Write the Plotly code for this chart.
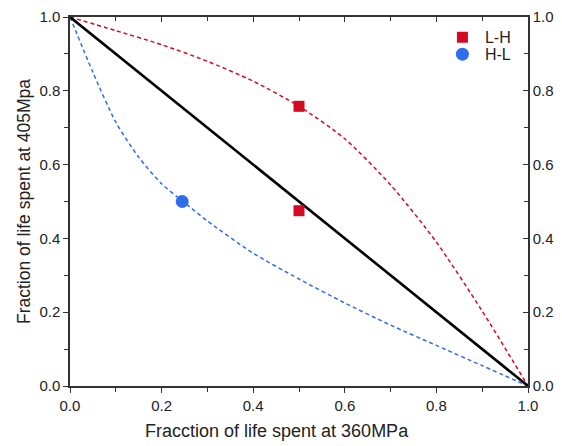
import plotly.graph_objects as go

# Reference diagonal (linear damage rule)
diag_x = [0.0, 1.0]
diag_y = [1.0, 0.0]

# Red dashed curve (L-H model)
red_curve_x = [0.0, 0.1, 0.2, 0.3, 0.4, 0.5, 0.6, 0.7, 0.8, 0.9, 1.0]
red_curve_y = [1.0, 0.963, 0.925, 0.880, 0.826, 0.758, 0.670, 0.545, 0.390, 0.203, 0.0]

# Blue dashed curve (H-L model)
blue_curve_x = [0.0, 0.05, 0.1, 0.15, 0.2, 0.25, 0.3, 0.4, 0.5, 0.6, 0.7, 0.8, 0.9, 1.0]
blue_curve_y = [1.0, 0.85, 0.715, 0.62, 0.548, 0.497, 0.447, 0.36, 0.29, 0.225, 0.165, 0.11, 0.055, 0.0]

# Experimental points
lh_x = [0.5, 0.5]
lh_y = [0.758, 0.475]
hl_x = [0.245]
hl_y = [0.5]

tick_vals = [0.0, 0.2, 0.4, 0.6, 0.8, 1.0]
tick_text = ["0.0", "0.2", "0.4", "0.6", "0.8", "1.0"]

RED = "#D40A22"
BLUE = "#2F6EEA"
AX = "#333333"
TXT = "#222222"
FONT = "Liberation Sans, Arial, sans-serif"

fig = go.Figure()

fig.add_trace(go.Scatter(x=red_curve_x, y=red_curve_y, mode="lines",
                         line=dict(color=RED, width=1.5, dash="4px,3px", shape="spline", smoothing=0.7),
                         showlegend=False, hoverinfo="skip"))
fig.add_trace(go.Scatter(x=blue_curve_x, y=blue_curve_y, mode="lines",
                         line=dict(color=BLUE, width=1.5, dash="4px,3px", shape="spline", smoothing=0.7),
                         showlegend=False, hoverinfo="skip"))
fig.add_trace(go.Scatter(x=diag_x, y=diag_y, mode="lines",
                         line=dict(color="black", width=2.6),
                         showlegend=False, hoverinfo="skip"))
fig.add_trace(go.Scatter(x=lh_x, y=lh_y, mode="markers", name="L-H", legend="legend",
                         marker=dict(symbol="square", size=11, color=RED)))
fig.add_trace(go.Scatter(x=hl_x, y=hl_y, mode="markers", name="H-L", legend="legend2",
                         marker=dict(symbol="circle", size=13, color=BLUE)))
# invisible trace to activate mirrored (top/right) axes
fig.add_trace(go.Scatter(x=[0.5], y=[0.5], xaxis="x2", yaxis="y2", mode="markers",
                         marker=dict(opacity=0), showlegend=False, hoverinfo="skip"))

common = dict(range=[0, 1], tickvals=tick_vals, ticktext=tick_text,
              showline=True, linecolor=AX, linewidth=1.5, showgrid=False, zeroline=False,
              ticklen=5, tickwidth=1.2, tickcolor=AX,
              tickfont=dict(family=FONT, size=15, color=TXT))

leg_common = dict(xanchor="left", yanchor="top", bgcolor="rgba(0,0,0,0)", borderwidth=0,
                  font=dict(family=FONT, size=16, color=TXT), itemwidth=35)

fig.update_layout(
    width=562, height=446,
    margin=dict(l=70, r=34, t=17, b=60, autoexpand=False),
    paper_bgcolor="white", plot_bgcolor="white",
    font=dict(family=FONT, color=TXT),
    xaxis=dict(**common, ticks="outside",
               minor=dict(dtick=0.1, ticks="outside", ticklen=4, tickwidth=1.2, tickcolor=AX)),
    yaxis=dict(**common, ticks="outside",
               minor=dict(dtick=0.1, ticks="outside", ticklen=4, tickwidth=1.2, tickcolor=AX),
               title=dict(text="Fraction of life spent at 405Mpa", font=dict(family=FONT, size=17.5), standoff=4)),
    xaxis2=dict(**common, overlaying="x", side="top", anchor="y", ticks="inside",
                showticklabels=False,
                minor=dict(dtick=0.1, ticks="inside", ticklen=4, tickwidth=1.2, tickcolor=AX)),
    yaxis2=dict(**common, overlaying="y", side="right", anchor="x", ticks="inside",
                showticklabels=True,
                minor=dict(dtick=0.1, ticks="inside", ticklen=4, tickwidth=1.2, tickcolor=AX)),
    legend=dict(**leg_common, x=0.8077, y=0.991),
    legend2=dict(**leg_common, x=0.8077, y=0.945),
    annotations=[dict(text="Fracction of life spent at 360MPa", xref="paper", yref="paper",
                      x=0.451, y=-0.122, xanchor="center", yanchor="middle", showarrow=False,
                      font=dict(family=FONT, size=18, color=TXT))],
)

fig.write_html("out.html", config={"displayModeBar": False},
               post_script="document.body.style.margin='0';document.body.style.padding='0';")
